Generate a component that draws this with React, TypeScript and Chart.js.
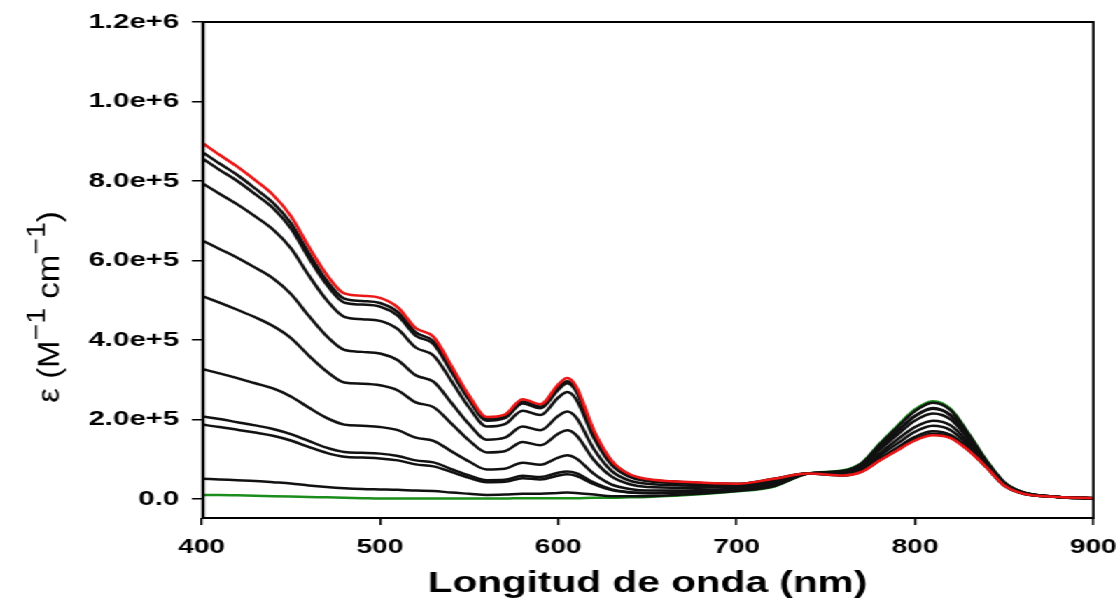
import React, { useEffect, useRef } from "react";
import { Chart, registerables } from "chart.js";

Chart.register(...registerables);

// Wavelength grid (nm)
const wavelengths = [400, 410, 420, 430, 440, 450, 460, 470, 480, 490, 500, 510, 520, 530, 540, 550, 560, 570, 580, 590, 600, 605, 610, 620, 630, 640, 650, 670, 700, 720, 740, 760, 770, 780, 790, 800, 810, 820, 830, 840, 850, 860, 880, 900];

// Molar absorptivity values in thousands (x1e3 M^-1 cm^-1)
const redFinal = [897, 866, 836, 802, 765, 712, 635, 565, 517, 511, 506, 482, 430, 408, 335, 260, 206, 212, 251, 238, 288, 304, 283, 172, 96, 62, 50, 43, 38, 50, 64, 59, 68, 96, 122, 147, 160, 153, 122, 80, 34, 14, 5, 2];
const black9 = [874, 844, 815, 781, 745, 694, 619, 550, 504, 498, 493, 470, 419, 397, 326, 253, 201, 207, 245, 232, 281, 296, 276, 168, 94, 61, 49, 42, 38, 50, 64, 59, 69, 97, 124, 149, 162, 155, 123, 80, 34, 14, 5, 2];
const black8 = [858, 828, 800, 767, 732, 681, 607, 540, 494, 489, 484, 461, 411, 390, 320, 249, 197, 203, 240, 228, 275, 291, 271, 165, 92, 59, 48, 42, 37, 49, 64, 60, 69, 98, 125, 150, 164, 156, 124, 81, 34, 14, 5, 2];
const black7 = [795, 768, 741, 711, 678, 631, 563, 501, 458, 452, 448, 427, 381, 361, 297, 230, 182, 188, 222, 211, 255, 269, 251, 153, 85, 55, 45, 39, 36, 48, 64, 61, 71, 101, 129, 156, 170, 161, 127, 82, 35, 14, 5, 2];
const black6 = [651, 629, 607, 582, 555, 516, 461, 410, 375, 370, 366, 349, 311, 295, 242, 188, 149, 154, 182, 173, 209, 220, 205, 125, 70, 46, 38, 34, 33, 44, 64, 63, 74, 108, 139, 169, 184, 173, 134, 85, 36, 15, 5, 2];
const black5 = [511, 494, 476, 457, 435, 405, 361, 321, 293, 290, 286, 273, 243, 231, 190, 147, 117, 120, 143, 135, 164, 173, 161, 98, 56, 37, 30, 28, 30, 41, 64, 65, 78, 114, 149, 181, 197, 185, 141, 87, 37, 16, 5, 2];
const black4 = [327, 316, 304, 291, 278, 258, 230, 204, 187, 184, 181, 173, 154, 146, 120, 94, 74, 76, 91, 86, 104, 110, 102, 63, 36, 25, 21, 21, 26, 37, 64, 67, 82, 123, 161, 197, 215, 200, 150, 91, 39, 17, 5, 1];
const black3 = [208, 201, 193, 185, 176, 163, 146, 129, 118, 116, 114, 108, 97, 92, 75, 59, 47, 48, 58, 55, 66, 69, 65, 41, 24, 17, 15, 17, 23, 34, 64, 69, 85, 129, 169, 208, 227, 210, 155, 93, 40, 17, 5, 1];
const black2 = [187, 181, 174, 167, 159, 147, 131, 116, 106, 104, 102, 97, 87, 82, 68, 53, 42, 43, 52, 49, 59, 62, 58, 37, 22, 16, 14, 16, 23, 34, 64, 69, 86, 130, 171, 209, 229, 211, 156, 94, 40, 17, 5, 1];
const black1 = [51, 49, 47, 45, 42, 39, 34, 30, 27, 25, 24, 23, 21, 20, 16, 13, 10, 11, 13, 13, 15, 16, 15, 11, 7, 7, 7, 11, 20, 31, 64, 71, 89, 136, 180, 221, 242, 223, 163, 96, 42, 18, 5, 1];
const greenInitial = [10, 10, 9, 8, 7, 6, 5, 4, 3, 2, 1, 1, 1, 1, 1, 1, 1, 1, 2, 2, 2, 2, 2, 3, 3, 4, 5, 9, 19, 30, 64, 72, 90, 138, 183, 225, 246, 226, 165, 97, 42, 18, 5, 1];

const blackSeries = [black9, black8, black7, black6, black5, black4, black3, black2, black1];

const yTickValues = [0, 200000, 400000, 600000, 800000, 1000000, 1200000];
const yTickLabels = ["0.0", "2.0e+5", "4.0e+5", "6.0e+5", "8.0e+5", "1.0e+6", "1.2e+6"];
const xTickValues = [400, 500, 600, 700, 800, 900];

const xTitle = "Longitud de onda (nm)";
// y title pieces: [text, isSuperscript]
const yTitleParts: [string, boolean][] = [
  ["ε (M", false],
  ["−1", true],
  [" cm", false],
  ["−1", true],
  [")", false],
];

const FONT = "'Liberation Sans', Arial, Helvetica, sans-serif";
const W = 800;
const H = 598;
const STRETCH = 1.4;

const toPoints = (arr: number[]) => wavelengths.map((w, i) => ({ x: w, y: arr[i] * 1000 }));

const framePlugin = {
  id: "frame",
  afterDatasetsDraw(chart: any) {
    const { ctx, chartArea } = chart;
    const { left, top, right, bottom } = chartArea;
    ctx.save();
    ctx.strokeStyle = "#000";
    ctx.lineWidth = 1.8;
    ctx.beginPath();
    ctx.moveTo(left, top);
    ctx.lineTo(right, top);
    ctx.lineTo(right, bottom);
    ctx.lineTo(left, bottom);
    ctx.stroke();
    ctx.lineWidth = 2.4;
    ctx.beginPath();
    ctx.moveTo(left + 1, top);
    ctx.lineTo(left + 1, bottom + 1);
    ctx.stroke();
    ctx.restore();
  },
};

const yTitlePlugin = {
  id: "ytitle",
  afterDraw(chart: any) {
    const { ctx } = chart;
    const size = 22;
    const supSize = 19;
    const textScale = 1.5;
    const mainFont = `normal ${size}px ${FONT}`;
    const supFont = `normal ${supSize}px ${FONT}`;
    ctx.save();
    let total = 0;
    for (const [t, sup] of yTitleParts) {
      ctx.font = sup ? supFont : mainFont;
      total += ctx.measureText(t).width;
    }
    ctx.translate(41.5, 307);
    ctx.rotate(-Math.PI / 2);
    ctx.scale(textScale, 1);
    ctx.fillStyle = "#000";
    ctx.textBaseline = "alphabetic";
    ctx.textAlign = "left";
    let x = -total / 2;
    for (const [t, sup] of yTitleParts) {
      ctx.font = sup ? supFont : mainFont;
      ctx.fillText(t, x, sup ? -10 : 0);
      x += ctx.measureText(t).width;
    }
    ctx.restore();
  },
};

export default function App() {
  const ref = useRef<HTMLCanvasElement | null>(null);

  useEffect(() => {
    if (!ref.current) return;
    const lineDs = (label: string, arr: number[], color: string) => ({
      label,
      data: toPoints(arr),
      borderColor: color,
      backgroundColor: color,
      borderWidth: 2.5,
      pointRadius: 0,
      fill: false,
      cubicInterpolationMode: "monotone" as const,
    });
    const datasets = [
      lineDs("final", redFinal, "rgb(235,22,22)"),
      ...blackSeries.map((s, i) => lineDs("b" + (9 - i), s, "#111")),
      lineDs("initial", greenInitial, "rgb(28,140,28)"),
    ];
    const chart = new Chart(ref.current, {
      type: "line",
      data: { datasets },
      plugins: [framePlugin, yTitlePlugin],
      options: {
        animation: false,
        responsive: false,
        devicePixelRatio: 1,
        layout: { padding: { top: 22, right: 19, bottom: 0, left: 0 } },
        plugins: { legend: { display: false }, tooltip: { enabled: false } },
        scales: {
          x: {
            type: "linear",
            min: 400,
            max: 900,
            afterBuildTicks: (scale: any) => {
              scale.ticks = xTickValues.map((v) => ({ value: v }));
            },
            afterFit: (scale: any) => {
              scale.height = 80;
              scale.paddingLeft = 0;
              scale.paddingRight = 0;
            },
            border: { display: false },
            grid: { drawOnChartArea: false, drawTicks: true, tickLength: 7, color: "#000", lineWidth: 1.5 },
            ticks: {
              color: "#000",
              padding: 10,
              maxRotation: 0,
              font: { family: FONT, size: 20, weight: "bold" },
              callback: (v: any) => String(v),
            },
            title: {
              display: true,
              text: xTitle,
              color: "#000",
              font: { family: FONT, size: 29, weight: "bold", lineHeight: 0.94 },
              padding: { top: 0, bottom: 0 },
            },
          },
          y: {
            type: "linear",
            min: -48000,
            max: 1200000,
            afterBuildTicks: (scale: any) => {
              scale.ticks = yTickValues.map((v) => ({ value: v }));
            },
            afterFit: (scale: any) => {
              scale.width = 144;
              scale.paddingTop = 0;
              scale.paddingBottom = 0;
            },
            border: { display: false },
            grid: { drawOnChartArea: false, drawTicks: true, tickLength: 7, color: "#000", lineWidth: 1.5 },
            ticks: {
              color: "#000",
              padding: 9,
              font: { family: FONT, size: 21, weight: "bold" },
              callback: (_v: any, i: number) => yTickLabels[i],
            },
            title: { display: false },
          },
        },
      },
    } as any);
    return () => chart.destroy();
  }, []);

  return (
    <div
      style={{
        position: "fixed",
        left: 0,
        top: 0,
        width: W + "px",
        height: H + "px",
        transform: `scaleX(${STRETCH})`,
        transformOrigin: "0 0",
        background: "#fff",
      }}
    >
      <canvas ref={ref} width={W} height={H} style={{ width: W + "px", height: H + "px", display: "block" }} />
    </div>
  );
}
